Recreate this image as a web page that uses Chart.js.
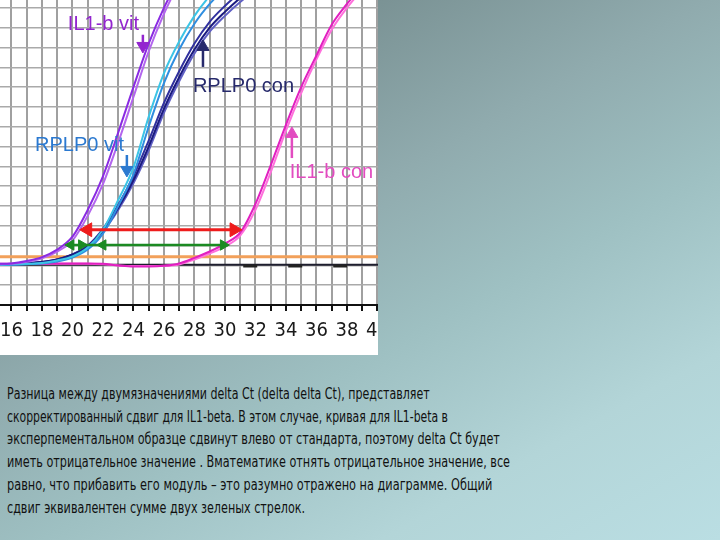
<!DOCTYPE html>
<html>
<head>
<meta charset="utf-8">
<script src="https://cdn.jsdelivr.net/npm/chart.js@4.4.0/dist/chart.umd.min.js"></script>
<style>
  html, body { margin: 0; padding: 0; }
  body {
    width: 720px; height: 540px; overflow: hidden; position: relative;
    background: linear-gradient(151deg, #647b7e 0%, #7a9294 22%, #90abae 42%, #9ec0c2 60%, #b3d5d8 80%, #badee3 100%);
  }
  #plotBox { position: absolute; left: 0; top: 0; width: 378px; height: 355px; overflow: hidden; background: #fff; }
  #caption {
    position: absolute; left: 7px; top: 383px;
    font-family: "Liberation Sans Narrow", "DejaVu Sans Condensed", sans-serif;
    font-size: 16.5px; line-height: 22.7px; color: #111; white-space: nowrap;
  }
  #caption span { display: block; width: max-content; transform-origin: 0 50%; }
</style>
</head>
<body>
<div id="plotBox"><canvas id="ampChart" width="400" height="355"></canvas></div>
<div id="caption">
<span>Разница между двумязначениями delta Ct (delta delta Ct), представляет</span>
<span>скорректированный сдвиг для IL1-beta. В этом случае, кривая для IL1-beta в</span>
<span>эксперпементальном образце сдвинут влево от стандарта, поэтому delta Ct будет</span>
<span>иметь отрицательное значение . Вматематике отнять отрицательное значение, все</span>
<span>равно, что прибавить его модуль – это разумно отражено на диаграмме. Общий</span>
<span>сдвиг эквивалентен сумме двух зеленых стрелок.</span>
</div>
<script>
// amplification cycles (x axis)
const cycles = [15, 16, 17, 18, 19, 20, 21, 22, 23, 24, 25, 26, 27, 28, 29, 30, 31, 32, 33, 34, 35, 36, 37, 38, 39, 40, 41];

// log fluorescence, one value per cycle
const il1bVitA = [2.08, 2.1, 2.22, 2.42, 2.8, 3.45, 4.8, 6.5, 8.7, 11.0, 13.2, 15.0, 16.5];
const il1bVitB = [2.05, 2.08, 2.18, 2.36, 2.7, 3.25, 4.5, 6.1, 8.2, 10.5, 12.8, 14.7, 16.3];
const rplp0VitA = [2.03, 2.05, 2.08, 2.12, 2.25, 2.45, 2.9, 3.8, 5.3, 6.95, 9.5, 11.7, 13.3, 14.6, 15.6, 16.4];
const rplp0VitB = [2.02, 2.04, 2.06, 2.1, 2.2, 2.4, 2.8, 3.6, 5.0, 6.6, 9.0, 11.2, 12.9, 14.2, 15.2, 16.0];
const rplp0ConA = [2.03, 2.05, 2.1, 2.18, 2.3, 2.55, 2.95, 3.75, 4.9, 6.3, 8.0, 9.9, 11.5, 12.9, 14.0, 14.8, 15.5, 16.1];
const rplp0ConB = [2.03, 2.05, 2.1, 2.17, 2.3, 2.55, 3.0, 3.85, 5.05, 6.5, 8.3, 10.2, 11.8, 13.2, 14.3, 15.1, 15.8];
const rplp0ConC = [2.02, 2.04, 2.08, 2.15, 2.27, 2.5, 2.9, 3.7, 4.8, 6.15, 7.8, 9.7, 11.3, 12.7, 13.8, 14.6, 15.3, 15.9];
const il1bConA = [2.08, 2.08, 2.1, 2.1, 2.1, 2.1, 2.1, 2.08, 2.0, 1.95, 1.95, 1.98, 2.1, 2.38, 2.7, 3.1, 3.65, 5.1, 7.05, 9.1, 11.0, 12.6, 14.15, 15.2, 16.1];
const il1bConB = [2.06, 2.06, 2.08, 2.08, 2.08, 2.08, 2.08, 2.06, 2.0, 1.97, 1.97, 1.98, 2.05, 2.3, 2.6, 2.95, 3.5, 4.8, 6.7, 8.8, 10.7, 12.4, 13.9, 15.0, 15.9, 16.6];
const thresholdLevel = [2.43, 2.43, 2.43, 2.43, 2.43, 2.43, 2.43, 2.43, 2.43, 2.43, 2.43, 2.43, 2.43, 2.43, 2.43, 2.43, 2.43, 2.43, 2.43, 2.43, 2.43, 2.43, 2.43, 2.43, 2.43, 2.43, 2.43];
const baselineLevel = [2.03, 2.03, 2.03, 2.03, 2.03, 2.03, 2.03, 2.03, 2.03, 2.03, 2.03, 2.03, 2.03, 2.03, 2.03, 2.03, 2.03, 2.03, 2.03, 2.03, 2.03, 2.03, 2.03, 2.03, 2.03, 2.03, 2.03];
const ntcCycles = [31.2, 41.5];
const ntcLevel = [1.97, 1.97];

// delta Ct arrows (cycle positions of the arrow heads)
const redArrowCycles = [21.0, 30.6];
const redArrowLevel = [3.8, 3.8];
const greenArrowCycles = [19.9, 20.6, 22.0, 29.9];
const greenArrowLevel = [3.03, 3.03, 3.03, 3.03];

// curve labels with their pointer arrows
const curveLabels = ['IL1-b vit', 'RPLP0 con', 'RPLP0 vit', 'IL1-b con'];
const labelCycles = [19.7, 27.9, 17.55, 34.25];
const labelLevels = [13.89, 10.73, 7.78, 6.41];
const labelColors = ['#9325cf', '#272a6c', '#2b79d0', '#e24cc0'];
const pointerCycles = [24.62, 28.56, 23.57, 34.39];
const pointerFrom = [13.64, 12.02, 7.58, 7.42];
const pointerTo = [13.08, 13.03, 6.82, 8.64];

const xTicks = [16, 18, 20, 22, 24, 26, 28, 30, 32, 34, 36, 38, 40];

// caption line lengths measured on the slide
const captionWidths = [423, 441, 493, 503, 485, 298];

function curve(values, color, width) {
  return {
    data: values.map((v, i) => ({ x: cycles[i], y: v })),
    borderColor: color,
    borderWidth: width || 2,
    pointRadius: 0,
    cubicInterpolationMode: 'monotone'
  };
}

function arrow(xs, ys, rotations, radii, color, width) {
  return {
    data: xs.map((c, i) => ({ x: c, y: ys[i] })),
    borderColor: color,
    borderWidth: width,
    pointStyle: 'triangle',
    pointRadius: radii,
    pointRotation: rotations,
    pointBackgroundColor: color,
    pointBorderColor: color,
    pointBorderWidth: 1,
    tension: 0
  };
}

const datasets = [];
curveLabels.forEach((name, i) => {
  const up = pointerTo[i] > pointerFrom[i];
  datasets.push(arrow([pointerCycles[i], pointerCycles[i]], [pointerFrom[i], pointerTo[i]],
    [0, up ? 0 : 180], [0, 7], labelColors[i], 2.5));
});
datasets.push(arrow(redArrowCycles, redArrowLevel, [-90, 90], [8, 8], '#ee1c1c', 3));
datasets.push(arrow(greenArrowCycles, greenArrowLevel, [-90, 90, -90, 90], [6, 6, 6, 6], '#1b8a22', 2.5));
datasets.push(curve(il1bVitA, '#8a2be2'));
datasets.push(curve(il1bVitB, '#b366ee'));
datasets.push(curve(rplp0VitA, '#3cc4e6'));
datasets.push(curve(rplp0VitB, '#2f8ee0'));
datasets.push(curve(rplp0ConA, '#1b1b80'));
datasets.push(curve(rplp0ConB, '#30309e'));
datasets.push(curve(rplp0ConC, '#6060c4'));
datasets.push(curve(il1bConA, '#e020c0'));
datasets.push(curve(il1bConB, '#ff70dc'));
datasets.push({
  data: ntcCycles.map((c, i) => ({ x: c, y: ntcLevel[i] })),
  borderColor: '#222', borderWidth: 3, borderDash: [14, 31], pointRadius: 0
});
datasets.push(curve(baselineLevel, '#1e1e2e', 2));
datasets.push(curve(thresholdLevel, '#f2a05a', 3));

const labelPlugin = {
  id: 'curveLabels',
  afterDatasetsDraw(chart) {
    const { ctx, scales: { x, y } } = chart;
    ctx.save();
    ctx.font = '20px "Liberation Sans", Arial, sans-serif';
    ctx.textBaseline = 'alphabetic';
    curveLabels.forEach((text, i) => {
      ctx.fillStyle = labelColors[i];
      ctx.fillText(text, x.getPixelForValue(labelCycles[i]), y.getPixelForValue(labelLevels[i]));
    });
    ctx.restore();
  }
};

const ctx = document.getElementById('ampChart').getContext('2d');
new Chart(ctx, {
  type: 'line',
  data: { datasets: datasets },
  plugins: [labelPlugin],
  options: {
    responsive: false,
    animation: false,
    layout: { padding: 0, autoPadding: false },
    plugins: { legend: { display: false }, tooltip: { enabled: false } },
    scales: {
      x: {
        type: 'linear',
        min: 15.25,
        max: 41.48,
        afterFit: (scale) => {
          scale.height = 50;
          scale.paddingLeft = 0;
          scale.paddingRight = 0;
        },
        ticks: {
          stepSize: 1,
          includeBounds: false,
          autoSkip: false,
          maxRotation: 0,
          padding: 8,
          color: '#1a1a1a',
          font: { family: '"Liberation Sans Narrow", "DejaVu Sans Condensed", sans-serif', size: 20 },
          callback: (value) => xTicks.includes(value) ? String(value) : ''
        },
        grid: { color: '#a0a0a0', lineWidth: 2, tickColor: '#111', tickLength: 6 },
        border: { display: true, color: '#111', width: 2 }
      },
      y: {
        min: 0,
        max: 15.4,
        afterFit: (scale) => { scale.width = 0; },
        ticks: { display: false, stepSize: 1, includeBounds: false },
        grid: { color: '#aaaaaa', lineWidth: 1.5, drawTicks: false },
        border: { display: false }
      }
    }
  }
});

// squeeze each caption line to the width it has on the slide
document.querySelectorAll('#caption span').forEach((line, i) => {
  const natural = line.getBoundingClientRect().width;
  line.style.transform = 'scaleX(' + (captionWidths[i] / natural).toFixed(3) + ')';
});
</script>
</body>
</html>
